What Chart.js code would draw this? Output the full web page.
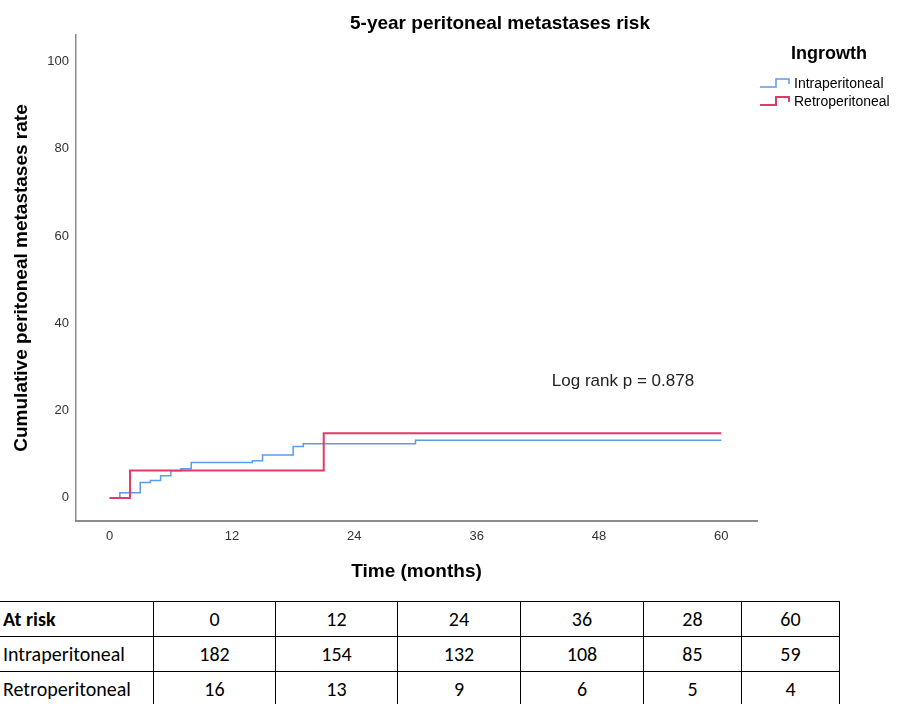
<!DOCTYPE html>
<html>
<head>
<meta charset="utf-8">
<title>5-year peritoneal metastases risk</title>
<script src="https://cdn.jsdelivr.net/npm/chart.js@4.4.1/dist/chart.umd.min.js"></script>
<style>
  html, body { margin: 0; padding: 0; background: #fff; }
  body { width: 898px; height: 704px; position: relative; overflow: hidden;
         font-family: 'Liberation Sans', Arial, sans-serif; color: #000; }
  #wrap { position: absolute; left: 0; top: 0; width: 898px; height: 595px; }
  .lbl { position: absolute; white-space: nowrap; }
  #title { left: 500px; top: 23px; transform: translate(-50%, -50%); font-size: 19px; font-weight: bold; }
  #legTitle { left: 829px; top: 53px; transform: translate(-50%, -50%); font-size: 18px; font-weight: bold; }
  .legItem { position: absolute; left: 760px; height: 16px; display: flex; align-items: center; font-size: 14px; }
  .legItem svg { margin-right: 4px; }
  #logrank { left: 623px; top: 381px; transform: translate(-50%, -50%); font-size: 17px; color: #222; }
  table.risk { position: absolute; left: 0; top: 601px; border-collapse: collapse;
               font-family: Carlito, Calibri, 'Liberation Sans Narrow', 'Liberation Sans', Arial, sans-serif; font-size: 20px; }
  table.risk td { border: 1px solid #000; height: 34px; padding: 0 3px; text-align: center; }
  table.risk tr td:first-child { text-align: left; border-left: none; }
  table.risk tr:first-child td { border-top: 1.5px solid #000; }
</style>
</head>
<body>
<div id="wrap"><canvas id="km" width="898" height="595"></canvas></div>

<div class="lbl" id="title">5-year peritoneal metastases risk</div>
<div class="lbl" id="legTitle">Ingrowth</div>
<div class="legItem" style="top:75px">
  <svg width="30" height="16"><polyline points="0,12 16,12 16,4 29,4 29,9" fill="none" stroke="#5b9bee" stroke-width="1.5"/></svg>Intraperitoneal
</div>
<div class="legItem" style="top:93px">
  <svg width="30" height="16"><polyline points="0,12 16,12 16,4 29,4 29,9" fill="none" stroke="#e23a67" stroke-width="2"/></svg>Retroperitoneal
</div>
<div class="lbl" id="logrank">Log rank p = 0.878</div>

<table class="risk" id="riskTable"></table>

<script>
// ---- data ----
const intraTimes = [0, 1, 3, 4, 5, 6, 7, 8, 14, 15, 18, 19, 30, 60];
const intraRates = [0, 1.2, 3.5, 4.0, 5.1, 6.2, 6.7, 8.1, 8.5, 9.8, 11.8, 12.4, 13.2, 13.2];

const retroTimes = [0, 2, 21, 60];
const retroRates = [0, 6.25, 14.8, 14.8];

const xTicks = [0, 12, 24, 36, 48, 60];
const yTicks = [0, 20, 40, 60, 80, 100];

const riskHeader = ['At risk', '0', '12', '24', '36', '28', '60'];
const riskIntra = ['Intraperitoneal', 182, 154, 132, 108, 85, 59];
const riskRetro = ['Retroperitoneal', 16, 13, 9, 6, 5, 4];
const riskColWidths = [154, 122, 122, 123, 123, 98, 98];

const colors = { intra: '#5b9bee', retro: '#e23a67', axis: '#8c8c8c', tick: '#333333' };

// ---- at risk table ----
function buildTable() {
  const tbl = document.getElementById('riskTable');
  [riskHeader, riskIntra, riskRetro].forEach((row, r) => {
    const tr = document.createElement('tr');
    row.forEach((v, i) => {
      const td = document.createElement('td');
      td.textContent = v;
      td.style.width = (riskColWidths[i] - 7) + 'px';
      if (r === 0 && i === 0) td.style.fontWeight = 'bold';
      tr.appendChild(td);
    });
    tbl.appendChild(tr);
  });
}
buildTable();

// ---- chart ----
Chart.defaults.font.family = "'Liberation Sans', Arial, sans-serif";
Chart.defaults.color = colors.tick;

const toPts = (xs, ys) => xs.map((x, i) => ({ x: x, y: ys[i] }));

new Chart(document.getElementById('km'), {
  type: 'line',
  data: {
    datasets: [
      { label: 'Retroperitoneal', data: toPts(retroTimes, retroRates), borderColor: colors.retro,
        borderWidth: 2, stepped: true, pointRadius: 0, fill: false },
      { label: 'Intraperitoneal', data: toPts(intraTimes, intraRates), borderColor: colors.intra,
        borderWidth: 1.5, stepped: true, pointRadius: 0, fill: false }
    ]
  },
  options: {
    responsive: false,
    animation: false,
    layout: { padding: { left: 0, top: 35, right: 141, bottom: 0 } },
    plugins: { legend: { display: false }, title: { display: false }, tooltip: { enabled: false } },
    scales: {
      x: {
        type: 'linear', min: -3.3, max: 63.5,
        afterBuildTicks: s => { s.ticks = xTicks.map(v => ({ value: v })); },
        afterFit: s => { s.height = 74; },
        grid: { display: false, drawTicks: false },
        border: { display: true, color: colors.axis, width: 2 },
        ticks: { font: { size: 13 }, color: colors.tick, padding: 8, maxRotation: 0 },
        title: { display: true, text: 'Time (months)', color: '#000',
                 font: { size: 19, weight: 'bold' }, padding: { top: 0, bottom: 12 } }
      },
      y: {
        type: 'linear', min: -5.3, max: 106.1,
        afterBuildTicks: s => { s.ticks = yTicks.map(v => ({ value: v })); },
        afterFit: s => { s.width = 76; },
        grid: { display: false, drawTicks: false },
        border: { display: true, color: colors.axis, width: 1.5 },
        ticks: { font: { size: 13 }, color: colors.tick, padding: 7 },
        title: { display: true, text: 'Cumulative peritoneal metastases rate', color: '#000',
                 font: { size: 19, weight: 'bold' }, padding: { top: 10, bottom: 0 } }
      }
    }
  }
});
</script>
</body>
</html>
